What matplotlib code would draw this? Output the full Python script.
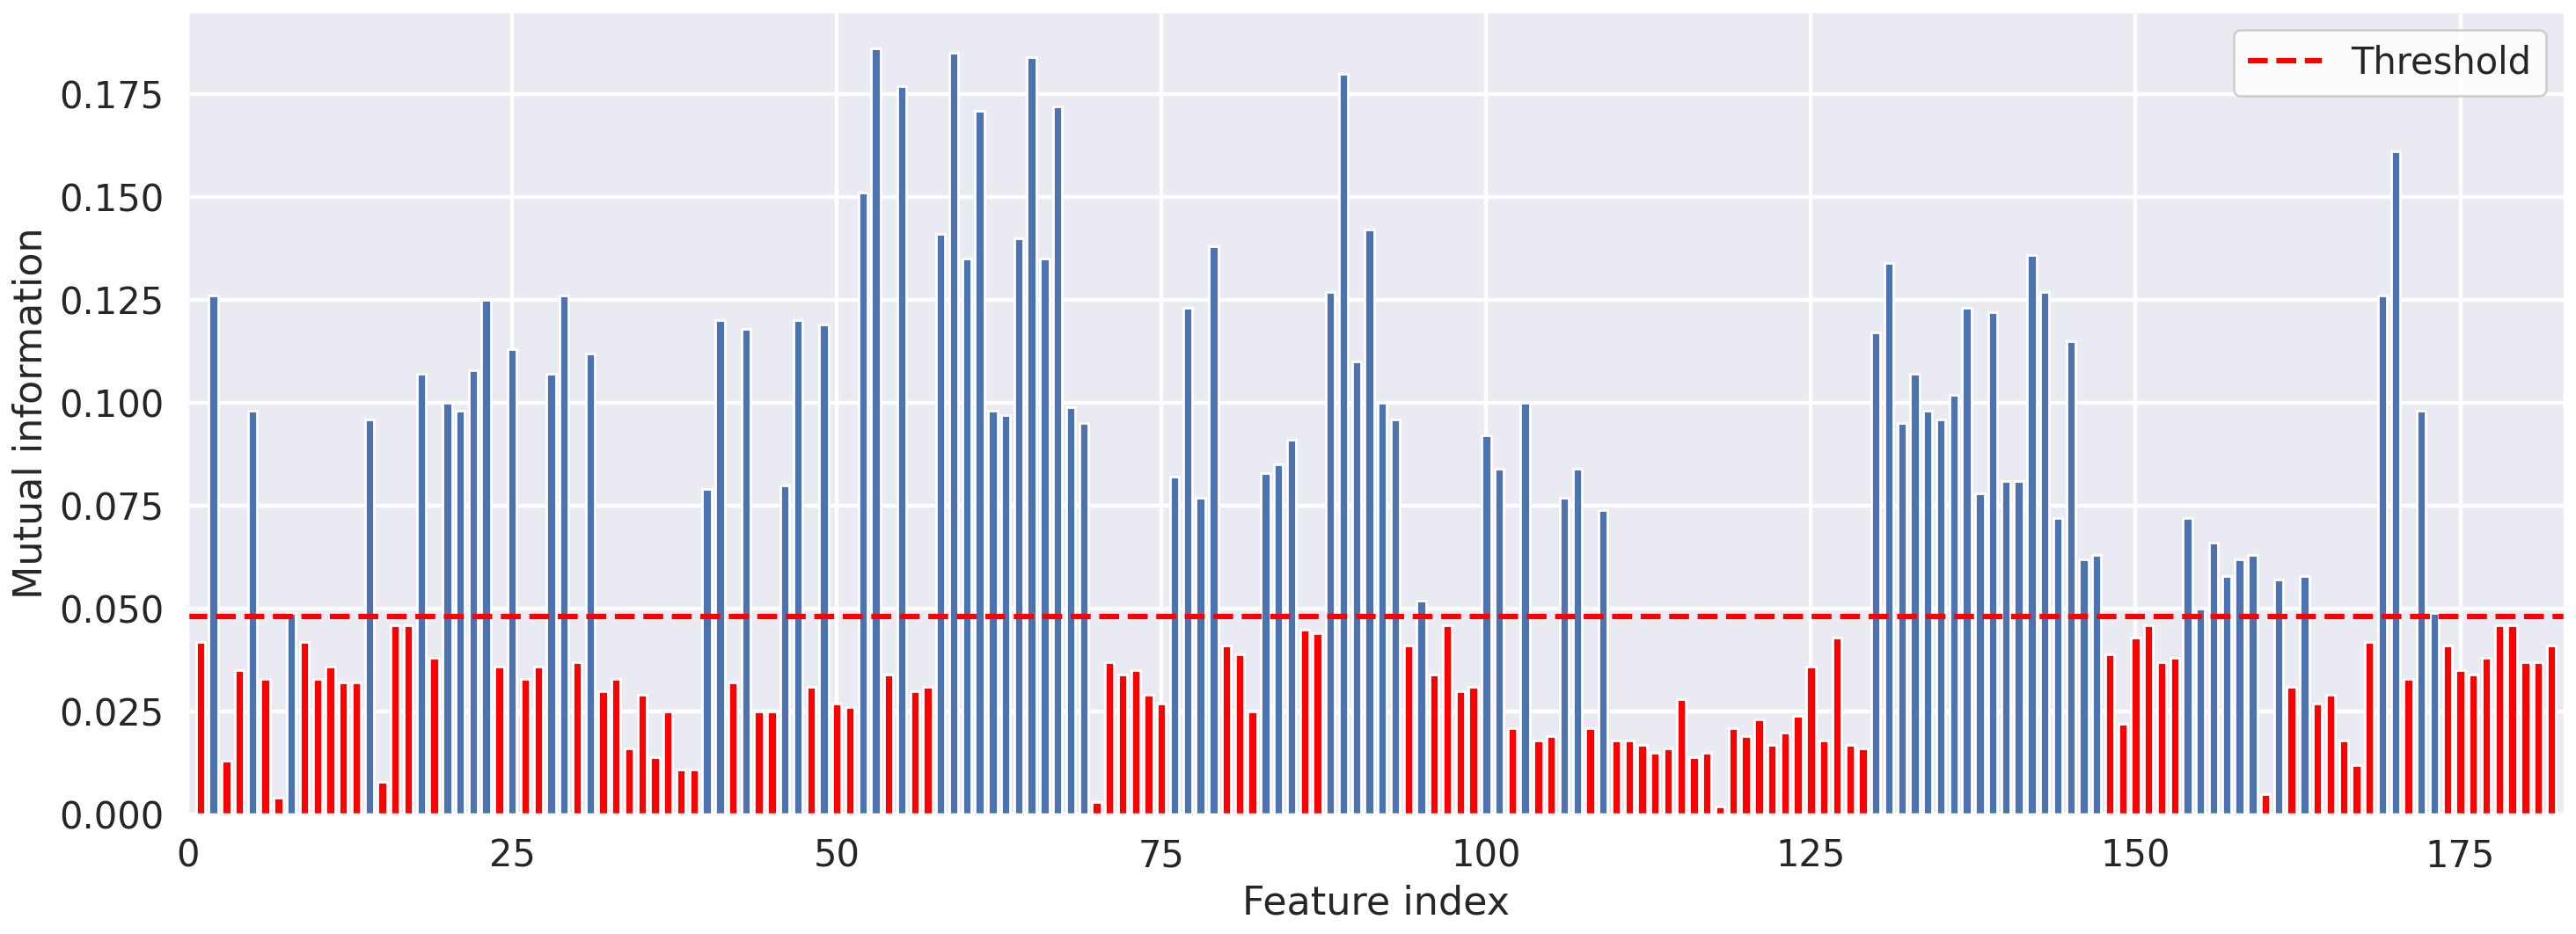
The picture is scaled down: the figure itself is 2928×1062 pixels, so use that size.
import matplotlib
matplotlib.use("Agg")
import matplotlib.pyplot as plt
import seaborn as sns
import numpy as np

sns.set_theme(style="darkgrid", rc={"grid.linewidth": 1.6})
plt.rcParams['font.family'] = ['DejaVu Sans']

mi_values = [
 0.042,0.126,0.013,0.035,0.098,0.033,0.004,0.049,0.042,0.033,
 0.036,0.032,0.032,0.096,0.008,0.046,0.046,0.107,0.038,0.100,
 0.098,0.108,0.125,0.036,0.113,0.033,0.036,0.107,0.126,0.037,
 0.112,0.030,0.033,0.016,0.029,0.014,0.025,0.011,0.011,0.079,
 0.120,0.032,0.118,0.025,0.025,0.080,0.120,0.031,0.119,0.027,
 0.026,0.151,0.186,0.034,0.177,0.030,0.031,0.141,0.185,0.135,
 0.171,0.098,0.097,0.140,0.184,0.135,0.172,0.099,0.095,0.003,
 0.037,0.034,0.035,0.029,0.027,0.082,0.123,0.077,0.138,0.041,
 0.039,0.025,0.083,0.085,0.091,0.045,0.044,0.127,0.180,0.110,
 0.142,0.100,0.096,0.041,0.052,0.034,0.046,0.030,0.031,0.092,
 0.084,0.021,0.100,0.018,0.019,0.077,0.084,0.021,0.074,0.018,
 0.018,0.017,0.015,0.016,0.028,0.014,0.015,0.002,0.021,0.019,
 0.023,0.017,0.020,0.024,0.036,0.018,0.043,0.017,0.016,0.117,
 0.134,0.095,0.107,0.098,0.096,0.102,0.123,0.078,0.122,0.081,
 0.081,0.136,0.127,0.072,0.115,0.062,0.063,0.039,0.022,0.043,
 0.046,0.037,0.038,0.072,0.050,0.066,0.058,0.062,0.063,0.005,
 0.057,0.031,0.058,0.027,0.029,0.018,0.012,0.042,0.126,0.161,
 0.033,0.098,0.049,0.041,0.035,0.034,0.038,0.046,0.046,0.037,
 0.037,0.041,
]
threshold = 0.048
feature_idx = np.arange(1, len(mi_values) + 1)

vals = np.array(mi_values)
colors = np.where(vals > threshold, '#4c72b0', 'red')

fig, ax = plt.subplots(figsize=(14.64, 5.31), dpi=200)
ax.bar(feature_idx, vals, width=0.7, color=colors, edgecolor='white', linewidth=1.0)
ax.axhline(threshold, color='red', linestyle='--', linewidth=2.2, label='Threshold')
ax.set_xlim(0, 183)
ax.set_ylim(0, 0.195)
ax.set_yticks(np.arange(0, 0.176, 0.025))
ax.set_xlabel('Feature index', fontsize=16)
ax.set_ylabel('Mutual information', fontsize=16)
ax.tick_params(labelsize=15)
ax.legend(loc='upper right', fontsize=15, facecolor='white', framealpha=0.9)
fig.tight_layout(pad=0.4)
fig.savefig('out.png', dpi=200)
